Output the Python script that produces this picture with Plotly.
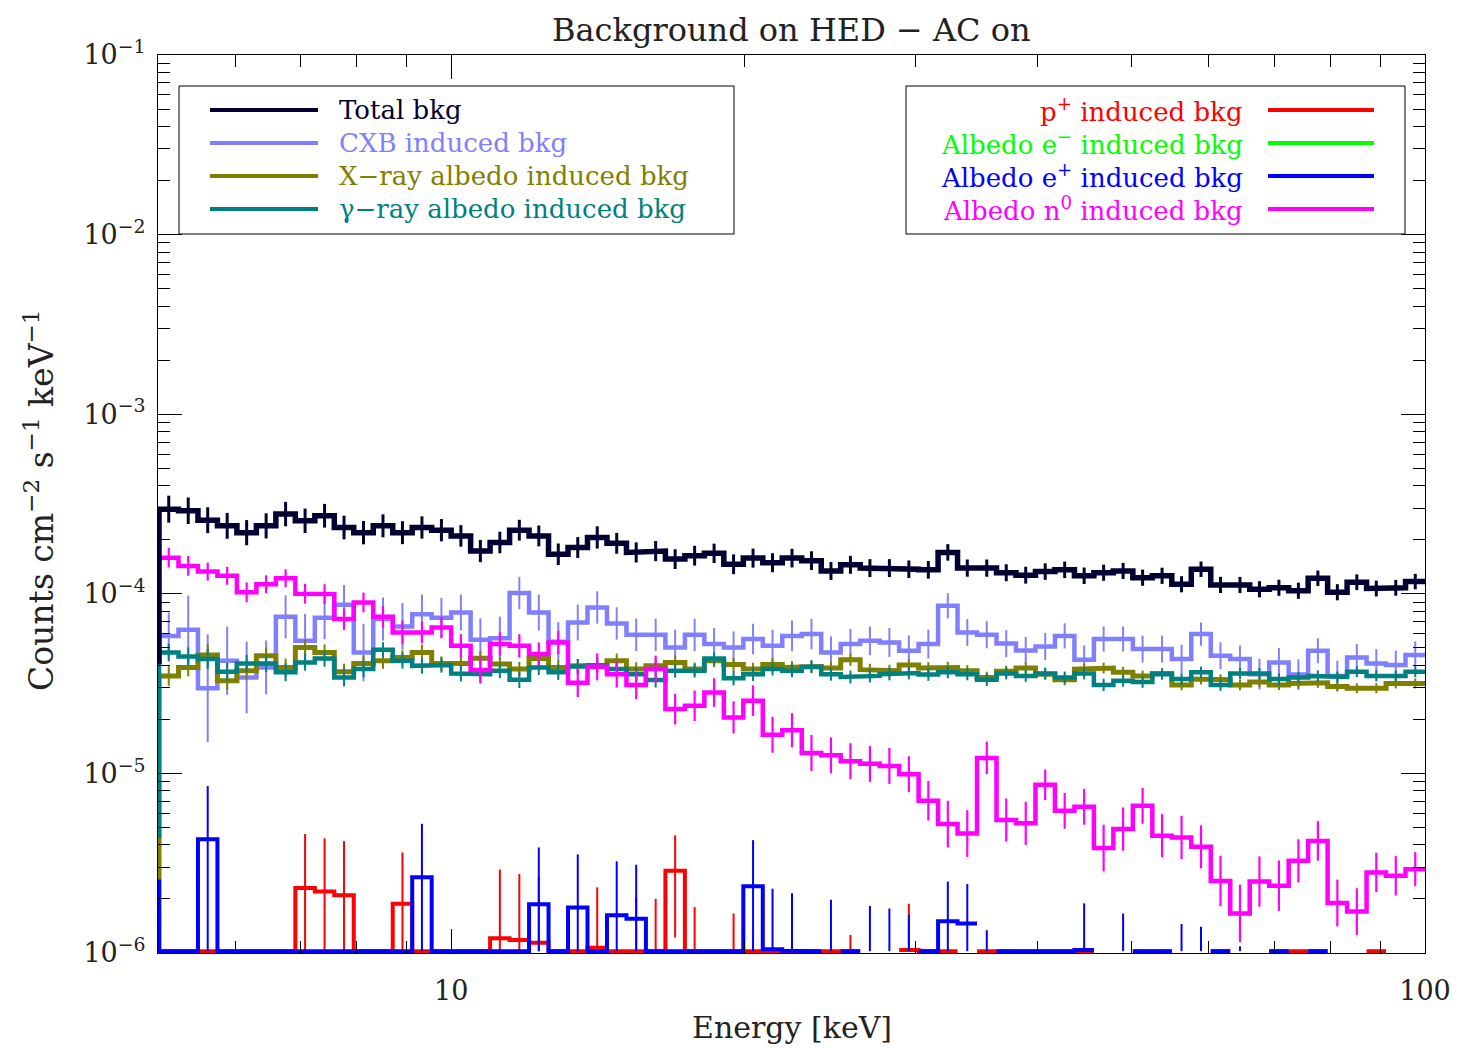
import numpy as np
import plotly.graph_objects as go

# log binning: 0.02 dex bins, first entry is the bin just below 5 keV
log_e0 = 0.68
bin_dex = 0.02
n_bins = 66

# counts cm^-2 s^-1 keV^-1 ; None = empty bin (not drawn)
total_bkg = [
    4.2e-5, 2.96e-4, 2.90e-4, 2.57e-4, 2.39e-4, 2.19e-4, 2.39e-4, 2.78e-4, 2.55e-4, 2.72e-4, 2.34e-4, 2.19e-4,
    2.39e-4, 2.19e-4, 2.34e-4, 2.26e-4, 2.10e-4, 1.73e-4, 1.93e-4, 2.26e-4, 2.10e-4, 1.66e-4, 1.81e-4,
    2.06e-4, 1.91e-4, 1.70e-4, 1.73e-4, 1.56e-4, 1.63e-4, 1.68e-4, 1.46e-4, 1.58e-4, 1.49e-4, 1.58e-4,
    1.53e-4, 1.34e-4, 1.45e-4, 1.39e-4, 1.39e-4, 1.37e-4, 1.36e-4, 1.70e-4, 1.39e-4, 1.39e-4, 1.31e-4,
    1.27e-4, 1.33e-4, 1.36e-4, 1.26e-4, 1.31e-4, 1.34e-4, 1.23e-4, 1.26e-4, 1.13e-4, 1.37e-4, 1.12e-4,
    1.12e-4, 1.06e-4, 1.08e-4, 1.04e-4, 1.22e-4, 1.02e-4, 1.16e-4, 1.07e-4, 1.08e-4, 1.17e-4]
total_err = [
    0, 0.075, 0.074, 0.072, 0.072, 0.07, 0.07, 0.068, 0.068, 0.066, 0.066, 0.065,
    0.064, 0.064, 0.062, 0.062, 0.06, 0.062, 0.06, 0.058, 0.058, 0.06, 0.058,
    0.062, 0.058, 0.056, 0.056, 0.055, 0.055, 0.054, 0.055, 0.053, 0.053, 0.052,
    0.052, 0.05, 0.05, 0.05, 0.05, 0.049, 0.049, 0.046, 0.048, 0.048, 0.047,
    0.047, 0.046, 0.046, 0.046, 0.045, 0.045, 0.045, 0.045, 0.045, 0.043, 0.045,
    0.045, 0.045, 0.045, 0.045, 0.043, 0.045, 0.044, 0.044, 0.044, 0.043]

cxb_bkg = [
    5.83e-5, 5.83e-5, 6.3e-5, 2.98e-5, 4.24e-5, 3.42e-5, 3.89e-5, 7.44e-5, 5.47e-5, 7.36e-5, 8.69e-5, 4.71e-5,
    7.23e-5, 6.58e-5, 7.7e-5, 7.36e-5, 7.87e-5, 5.54e-5, 5.66e-5, 1.01e-4, 7.87e-5, 5.4e-5, 6.92e-5,
    8.39e-5, 6.84e-5, 5.91e-5, 5.91e-5, 5.02e-5, 5.91e-5, 5.25e-5, 5.02e-5, 5.6e-5, 5.13e-5, 5.83e-5,
    5.97e-5, 4.71e-5, 5.25e-5, 5.47e-5, 5.36e-5, 4.82e-5, 5.25e-5, 8.57e-5, 6.09e-5, 5.91e-5, 5.28e-5,
    4.84e-5, 5.09e-5, 5.83e-5, 4.29e-5, 5.6e-5, 5.6e-5, 4.92e-5, 4.92e-5, 4.33e-5, 5.97e-5, 4.52e-5,
    4.33e-5, 3.57e-5, 4.15e-5, 3.55e-5, 4.82e-5, 3.49e-5, 4.42e-5, 4.09e-5, 4.01e-5, 4.57e-5]
cxb_err = [
    0, 0.13, 0.19, 0.3, 0.19, 0.2, 0.15, 0.12, 0.15, 0.12, 0.11, 0.16,
    0.12, 0.13, 0.11, 0.11, 0.1, 0.12, 0.12, 0.09, 0.1, 0.11, 0.1,
    0.09, 0.09, 0.09, 0.09, 0.1, 0.09, 0.09, 0.09, 0.085, 0.09, 0.085,
    0.085, 0.09, 0.085, 0.08, 0.08, 0.085, 0.08, 0.07, 0.075, 0.075, 0.075,
    0.075, 0.075, 0.07, 0.08, 0.07, 0.07, 0.075, 0.075, 0.08, 0.065, 0.075,
    0.075, 0.085, 0.08, 0.085, 0.07, 0.085, 0.075, 0.08, 0.08, 0.075]

xray_albedo_bkg = [
    0, 3.49e-5, 3.89e-5, 4.57e-5, 3.28e-5, 3.73e-5, 4.52e-5, 3.89e-5, 5.02e-5, 4.71e-5, 3.68e-5, 4.09e-5,
    4.24e-5, 4.42e-5, 4.71e-5, 4.09e-5, 4.09e-5, 4.38e-5, 4.06e-5, 3.81e-5, 4.36e-5, 3.89e-5, 3.97e-5,
    4.0e-5, 4.24e-5, 3.81e-5, 3.97e-5, 4.15e-5, 3.81e-5, 4.24e-5, 4.04e-5, 3.81e-5, 4.04e-5, 3.89e-5,
    3.94e-5, 3.86e-5, 4.29e-5, 3.78e-5, 3.73e-5, 4.01e-5, 3.86e-5, 3.89e-5, 3.73e-5, 3.42e-5, 3.70e-5,
    3.86e-5, 3.57e-5, 3.32e-5, 3.81e-5, 3.86e-5, 3.66e-5, 3.49e-5, 3.6e-5, 3.11e-5, 3.35e-5, 3.32e-5,
    3.11e-5, 3.23e-5, 3.11e-5, 3.17e-5, 3.2e-5, 3.05e-5, 2.98e-5, 2.98e-5, 3.17e-5, 3.17e-5]
xray_albedo_err = [
    0, 0.055, 0.05, 0.06, 0.05, 0.05, 0.045, 0.05, 0.045, 0.045, 0.045, 0.045,
    0.045, 0.04, 0.045, 0.04, 0.04, 0.04, 0.04, 0.04, 0.04, 0.04, 0.038,
    0.04, 0.04, 0.038, 0.038, 0.038, 0.036, 0.036, 0.036, 0.035, 0.035, 0.035,
    0.034, 0.034, 0.034, 0.033, 0.033, 0.033, 0.033, 0.032, 0.032, 0.032, 0.032,
    0.032, 0.031, 0.031, 0.031, 0.03, 0.03, 0.03, 0.03, 0.03, 0.03, 0.03,
    0.03, 0.029, 0.029, 0.029, 0.029, 0.028, 0.028, 0.028, 0.028, 0.028]

gamma_albedo_bkg = [
    4.5e-6, 4.71e-5, 4.48e-5, 4.33e-5, 3.68e-5, 4.09e-5, 4.09e-5, 3.66e-5, 4.15e-5, 4.36e-5, 3.42e-5, 3.81e-5,
    4.88e-5, 4.24e-5, 3.97e-5, 4.01e-5, 3.6e-5, 3.57e-5, 3.73e-5, 3.32e-5, 3.89e-5, 3.66e-5, 3.94e-5,
    4.0e-5, 3.81e-5, 3.57e-5, 3.31e-5, 3.73e-5, 3.73e-5, 4.36e-5, 3.39e-5, 3.57e-5, 3.81e-5, 3.73e-5,
    3.92e-5, 3.57e-5, 3.44e-5, 3.49e-5, 3.57e-5, 3.62e-5, 3.55e-5, 3.66e-5, 3.57e-5, 3.32e-5, 3.6e-5,
    3.49e-5, 3.6e-5, 3.42e-5, 3.6e-5, 3.11e-5, 3.28e-5, 3.23e-5, 3.57e-5, 3.35e-5, 3.66e-5, 3.11e-5,
    3.6e-5, 3.6e-5, 3.35e-5, 3.42e-5, 3.49e-5, 3.44e-5, 3.68e-5, 3.49e-5, 3.49e-5, 3.68e-5]
gamma_albedo_err = [
    0, 0.05, 0.05, 0.055, 0.05, 0.048, 0.048, 0.05, 0.046, 0.045, 0.05, 0.046,
    0.042, 0.044, 0.044, 0.042, 0.044, 0.044, 0.042, 0.046, 0.042, 0.043, 0.042,
    0.04, 0.04, 0.04, 0.042, 0.038, 0.038, 0.035, 0.04, 0.038, 0.036, 0.036,
    0.035, 0.036, 0.036, 0.036, 0.035, 0.035, 0.035, 0.034, 0.034, 0.034, 0.033,
    0.033, 0.033, 0.033, 0.033, 0.034, 0.033, 0.033, 0.031, 0.032, 0.031, 0.033,
    0.031, 0.031, 0.032, 0.031, 0.031, 0.031, 0.03, 0.031, 0.031, 0.03]

proton_bkg = [
    0, 0, 0, 0, 0, 0, 0, 0, 2.3e-6, 2.2e-6, 2.1e-6, 0,
    0, 1.88e-6, 0, 0, 0, 0, 1.21e-6, 1.18e-6, 1.14e-6, 0, 0,
    1.07e-6, 0, 1.03e-6, 0, 2.87e-6, 0, 0, 0, 0, 0, 0,
    0, 0, 0, None, None, 1.04e-6, 0, 0, None, 0, 0,
    0, 0, 0, 0, None, None, 0, 0, None, None, 0,
    None, None, 0, 0, 0, None, None, 0, None, None]
proton_err = [
    0, 0, 0, 0, 0, 0, 0, 0, 2.3e-6, 2.15e-6, 2.1e-6, 0,
    0, 1.75e-6, 0, 0, 0, 0, 1.7e-6, 1.57e-6, 1.5e-6, 0, 0,
    1.25e-6, 0, 1.0e-6, 2.0e-6, 1.65e-6, 1.8e-6, 0, 1.66e-6, 0, 0, 0,
    0, 0, 1.26e-6, 0, 0, 0.84e-6, 1.05e-6, 0, 0, 0, 0,
    0, 0, 0, 0, 0, 0, 0, 0, 0, 0, 0,
    0, 0, 0, 0, 0, 0, 0, 0, 0, 0]

# no albedo e- counts in this energy range
electron_bkg = [None] * n_bins
electron_err = [0] * n_bins

positron_bkg = [
    2.5e-6, 0, 0, 4.3e-6, 0, 0, 0, 0, 0, 0, 0, 0,
    0, 0, 2.64e-6, 0, 0, 0, 0, 0, 1.87e-6, 0, 1.79e-6,
    0, 1.62e-6, 1.55e-6, 0, 0, 0, 0, 0, 2.35e-6, 1.05e-6, 1.03e-6,
    0, None, 0, None, None, None, 0, 1.5e-6, 1.46e-6, None, 0,
    0, 0, 0, 1.04e-6, None, None, 0, 0, None, None, 0,
    None, None, 0, None, 0, None, None, None, None, None]
positron_err = [
    0, 0, 0, 4.2e-6, 0, 0, 0, 0, 0, 0, 0, 0,
    0, 0, 2.6e-6, 0, 0, 0, 0, 0, 2.0e-6, 0, 1.75e-6,
    0, 1.62e-6, 1.55e-6, 0, 0, 0, 0, 0, 1.9e-6, 1.23e-6, 1.12e-6,
    0, 1.98e-6, 0, 1.83e-6, 1.77e-6, 1.63e-6, 0, 1.0e-6, 0.96e-6, 1.34e-6, 0,
    0, 0, 0, 0.85e-6, 0, 1.66e-6, 0, 0, 1.45e-6, 1.4e-6, 0,
    1.09e-6, 0, 0, 0, 0, 0, 0, 0, 0, 0]

neutron_bkg = [
    1.59e-4, 1.59e-4, 1.43e-4, 1.33e-4, 1.26e-4, 1.02e-4, 1.13e-4, 1.22e-4, 1.0e-4, 9.96e-5, 7.23e-5, 8.95e-5,
    7.44e-5, 6.09e-5, 6.09e-5, 6.49e-5, 5.13e-5, 3.76e-5, 5.25e-5, 5.13e-5, 4.62e-5, 5.36e-5, 3.2e-5,
    3.92e-5, 3.57e-5, 3.11e-5, 3.81e-5, 2.28e-5, 2.38e-5, 2.82e-5, 2.05e-5, 2.54e-5, 1.64e-5, 1.74e-5,
    1.3e-5, 1.26e-5, 1.17e-5, 1.13e-5, 1.1e-5, 9.9e-6, 7.04e-6, 5.22e-6, 4.63e-6, 1.22e-5, 5.5e-6,
    5.27e-6, 8.64e-6, 6.19e-6, 6.52e-6, 3.84e-6, 4.9e-6, 6.6e-6, 4.5e-6, 4.4e-6, 3.9e-6, 2.52e-6,
    1.66e-6, 2.5e-6, 2.37e-6, 3.26e-6, 4.21e-6, 1.9e-6, 1.7e-6, 2.81e-6, 2.69e-6, 2.93e-6]
neutron_err = [
    0, 0.055, 0.055, 0.05, 0.05, 0.055, 0.05, 0.05, 0.055, 0.055, 0.06, 0.055,
    0.06, 0.065, 0.06, 0.06, 0.065, 0.075, 0.065, 0.065, 0.065, 0.065, 0.08,
    0.075, 0.075, 0.08, 0.075, 0.085, 0.085, 0.08, 0.09, 0.085, 0.1, 0.095,
    0.1, 0.1, 0.1, 0.1, 0.1, 0.1, 0.11, 0.13, 0.13, 0.09, 0.12,
    0.12, 0.085, 0.1, 0.1, 0.13, 0.12, 0.1, 0.12, 0.12, 0.12, 0.14,
    0.16, 0.14, 0.14, 0.12, 0.11, 0.13, 0.13, 0.11, 0.11, 0.095]

edges = 10 ** (log_e0 + bin_dex * np.arange(n_bins + 1))
centers = 10 ** (log_e0 + bin_dex * (np.arange(n_bins) + 0.5))
y_floor = 10 ** -5.99   # zero bins are drawn on the bottom axis, like IDL does

FONT = "DejaVu Serif"

# the page puts an 8 px body margin around the figure
PAGE_OFF = 8
FIG_W, FIG_H = 1462 - PAGE_OFF, 1048 - PAGE_OFF
# plot area in page pixels
PL, PR, PT, PB = 158, 1425, 55, 953


def px_x(px):
    return (px - PL) / (PR - PL)


def px_y(py):
    return (PB - py) / (PB - PT)


def step_path(vals):
    xs, ys = [], []
    for i, v in enumerate(vals):
        if v is None:
            xs.append(None)
            ys.append(None)
            continue
        y = max(v, y_floor)
        xs += [edges[i], edges[i + 1]]
        ys += [y, y]
    return xs, ys


def err_path(vals, errs, in_dex=True):
    xs, ys = [], []
    for i, (v, e) in enumerate(zip(vals, errs)):
        if not e:
            continue
        v = v or 0.0
        if in_dex:
            lo, hi = v / 10 ** e, v * 10 ** e
        else:
            lo, hi = v - e, v + e
        xs += [centers[i], centers[i], None]
        ys += [max(lo, y_floor), hi, None]
    return xs, ys


# name, values, errors, errors in dex?, colour, line width, error width
series = [
    ("CXB induced bkg", cxb_bkg, cxb_err, True, "#8080ff", 4.5, 2),
    ("X\u2212ray albedo induced bkg", xray_albedo_bkg, xray_albedo_err, True, "#808000", 5, 2),
    ("\u03b3\u2212ray albedo induced bkg", gamma_albedo_bkg, gamma_albedo_err, True, "#008080", 4.5, 2),
    ("p<sup>+</sup> induced bkg", proton_bkg, proton_err, False, "#ff0000", 4, 2),
    ("Albedo e<sup>\u2212</sup> induced bkg", electron_bkg, electron_err, False, "#00ff00", 4, 2),
    ("Albedo e<sup>+</sup> induced bkg", positron_bkg, positron_err, False, "#0000ff", 4, 2),
    ("Albedo n<sup>0</sup> induced bkg", neutron_bkg, neutron_err, True, "#ff00ff", 4.5, 2.2),
    ("Total bkg", total_bkg, total_err, True, "#000033", 5.5, 3),
]

fig = go.Figure()
for name, vals, errs, in_dex, col, lw, ew in series:
    assert len(vals) == n_bins and len(errs) == n_bins, name
    sx, sy = step_path(vals)
    fig.add_trace(go.Scatter(x=sx, y=sy, mode="lines", line=dict(color=col, width=lw),
                             name=name, showlegend=False, hoverinfo="skip"))
    ex, ey = err_path(vals, errs, in_dex)
    if ex:
        fig.add_trace(go.Scatter(x=ex, y=ey, mode="lines", line=dict(color=col, width=ew),
                                 showlegend=False, hoverinfo="skip"))

x_minor = [6, 7, 8, 9, 20, 30, 40, 50, 60, 70, 80, 90]
y_major = [1e-6, 1e-5, 1e-4, 1e-3, 1e-2, 1e-1]
y_minor = [m * 10.0 ** k for k in range(-6, -1) for m in range(2, 10)]

axis_style = dict(
    type="log", showline=True, linecolor="black", linewidth=1, mirror="allticks",
    ticks="inside", ticklen=24, tickwidth=1, tickcolor="black",
    showgrid=False, zeroline=False,
    tickfont=dict(family=FONT, size=27, color="#222"),
)

fig.update_layout(
    width=FIG_W, height=FIG_H,
    margin=dict(l=PL - PAGE_OFF, r=1462 - PR, t=PT - PAGE_OFF, b=1048 - PB),
    paper_bgcolor="white", plot_bgcolor="white",
    showlegend=False,
    xaxis=dict(axis_style, range=[np.log10(5), 2], tickvals=[10, 100], ticktext=["10", "100"],
               ticklabelstandoff=14,
               minor=dict(ticks="inside", ticklen=12, tickwidth=1, tickcolor="black", tickvals=x_minor)),
    yaxis=dict(axis_style, range=[-6, -1], tickvals=y_major,
               ticktext=["10<sup>\u2212%d</sup>" % k for k in range(6, 0, -1)],
               ticklabelstandoff=6,
               minor=dict(ticks="inside", ticklen=12, tickwidth=1, tickcolor="black", tickvals=y_minor)),
)

annotations = [
    dict(text="Background on HED \u2212 AC on", x=0.5, y=px_y(30), font=dict(family=FONT, size=32, color="#222")),
    dict(text="Energy [keV]", x=0.5, y=px_y(1027), font=dict(family=FONT, size=30, color="#222")),
    dict(text="Counts cm<sup>\u22122</sup> s<sup>\u22121</sup> keV<sup>\u22121</sup>", x=px_x(40), y=px_y(500),
         textangle=-90, font=dict(family=FONT, size=33, color="#222")),
]

shapes = []
# legend boxes
shapes.append(dict(type="rect", xref="paper", yref="paper", x0=px_x(179), x1=px_x(734),
                   y0=px_y(234), y1=px_y(86), line=dict(color="black", width=1), fillcolor="white", layer="above"))
shapes.append(dict(type="rect", xref="paper", yref="paper", x0=px_x(906), x1=px_x(1405),
                   y0=px_y(234), y1=px_y(86), line=dict(color="black", width=1), fillcolor="white", layer="above"))

rows = [110, 143, 176, 209]
left_items = [series[7], series[0], series[1], series[2]]
right_items = [series[3], series[4], series[5], series[6]]
for row, item in zip(rows, left_items):
    name, col = item[0], item[4]
    shapes.append(dict(type="line", xref="paper", yref="paper", x0=px_x(210), x1=px_x(318),
                       y0=px_y(row), y1=px_y(row), line=dict(color=col, width=4), layer="above"))
    annotations.append(dict(text=name, x=px_x(337), y=px_y(row), xanchor="left",
                            font=dict(family=FONT, size=26, color=col)))
for row, item in zip(rows, right_items):
    name, col = item[0], item[4]
    shapes.append(dict(type="line", xref="paper", yref="paper", x0=px_x(1268), x1=px_x(1374),
                       y0=px_y(row), y1=px_y(row), line=dict(color=col, width=4), layer="above"))
    annotations.append(dict(text=name, x=px_x(1245), y=px_y(row), xanchor="right",
                            font=dict(family=FONT, size=26, color=col)))

for a in annotations:
    a.setdefault("xanchor", "center")
    a.update(xref="paper", yref="paper", yanchor="middle", showarrow=False)

fig.update_layout(shapes=shapes, annotations=annotations)
fig.write_html("out.html")
